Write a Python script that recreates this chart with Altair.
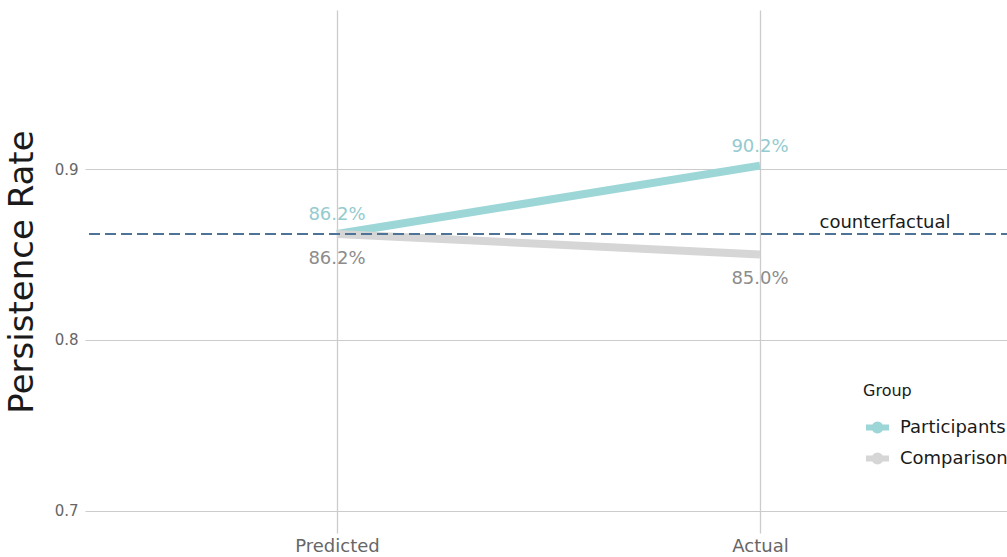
import altair as alt
import pandas as pd

# ---- data ----
stages = ["Predicted", "Actual"]
groups = ["Participants", "Comparison"]
participants = [0.862, 0.902]
comparison = [0.862, 0.850]
counterfactual = 0.862
y_ticks = [0.7, 0.8, 0.9]

line_colors = ["#9dd6d7", "#d6d6d6"]
label_colors = ["#93cbcf", "#8c8c8c"]
cf_color = "#4e7395"
FONT = "DejaVu Sans"

rows = []
for s, p, c in zip(stages, participants, comparison):
    rows.append({"stage": s, "group": groups[0], "rate": p, "label": f"{p*100:.1f}%"})
    rows.append({"stage": s, "group": groups[1], "rate": c, "label": f"{c*100:.1f}%"})
df = pd.DataFrame(rows)
cf_df = pd.DataFrame({"rate": [counterfactual], "name": ["counterfactual"]})

x_enc = alt.X(
    "stage:N",
    sort=stages,
    scale=alt.Scale(padding=0.5957),
    axis=alt.Axis(
        title=None, labelAngle=0, labelFontSize=18, labelColor="#666666",
        labelPadding=4, ticks=False, domain=False, grid=True,
        gridColor="#cccccc", gridWidth=1.3,
    ),
)
y_scale = alt.Scale(domain=[0.6871, 0.993], nice=False, zero=False)
y_enc = alt.Y(
    "rate:Q",
    scale=y_scale,
    axis=alt.Axis(
        values=y_ticks, format=".1f", title="Persistence Rate",
        titleFontSize=34, titleFontWeight="normal", titleColor="#1a1a1a",
        titlePadding=15, labelFontSize=15, labelColor="#666666",
        labelPadding=7, ticks=False, domain=False, grid=True,
        gridColor="#cccccc", gridWidth=1,
    ),
)

legend_symbol = "M-1,0H1M0.26,0A0.26,0.26,0,1,1,-0.26,0A0.26,0.26,0,1,1,0.26,0"

base = alt.Chart(df)

lines = base.mark_line(strokeWidth=8).encode(
    x=x_enc,
    y=y_enc,
    color=alt.Color(
        "group:N",
        scale=alt.Scale(domain=groups, range=line_colors),
        legend=alt.Legend(
            title="Group", orient="none", legendX=778, legendY=373,
            titleFontSize=16, titleFontWeight="normal", titleColor="#1a1a1a",
            titlePadding=14, labelFontSize=18, labelColor="#1a1a1a",
            symbolType=legend_symbol, symbolSize=529, symbolStrokeWidth=6,
            symbolOffset=0, labelOffset=8, rowPadding=0,
        ),
    ),
)

labels_top = base.transform_filter(alt.datum.group == groups[0]).mark_text(
    fontSize=18, dy=-19, color=label_colors[0], font=FONT
).encode(x=alt.X("stage:N", sort=stages), y=alt.Y("rate:Q"), text="label:N")

labels_bottom = base.transform_filter(alt.datum.group == groups[1]).mark_text(
    fontSize=18, dy=25, color=label_colors[1], font=FONT
).encode(x=alt.X("stage:N", sort=stages), y=alt.Y("rate:Q"), text="label:N")

cf_rule = alt.Chart(cf_df).mark_rule(
    color=cf_color, strokeDash=[11, 5], strokeWidth=2
).encode(y=alt.Y("rate:Q"))

cf_text = alt.Chart(cf_df).mark_text(
    fontSize=18, dy=-11, color="#1a1a1a", align="center", font=FONT
).encode(y=alt.Y("rate:Q"), x=alt.value(800), text="name:N")

chart = alt.layer(lines, cf_rule, labels_top, labels_bottom, cf_text).properties(
    width=927,
    height=523,
    autosize=alt.AutoSizeParams(type="none"),
    padding={"left": 85, "top": 10, "right": -5, "bottom": 24},
).configure(font=FONT).configure_view(stroke=None)

chart.save("out.html", embed_options={"renderer": "svg", "actions": False})
